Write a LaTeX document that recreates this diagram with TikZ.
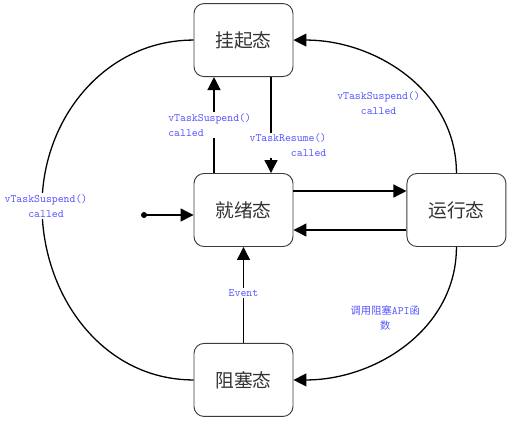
\documentclass[tikz,border=0pt]{standalone}
\usepackage{fontspec}
\newfontfamily\cjk{Noto Sans CJK SC}
\usepackage{tikz}
\tikzset{>=latex}
\usetikzlibrary{positioning, arrows.meta, calc}
\definecolor{lblblue}{RGB}{85,85,255}
\definecolor{boxgray}{RGB}{60,60,60}

\begin{document}
\begin{tikzpicture}[
    state/.style={draw=boxgray, line width=0.8pt, rounded corners=0.3cm, fill=white, minimum width=2.97cm, minimum height=2.19cm, font=\cjk\fontsize{16}{16}\selectfont, text=black!80},
    lbl/.style={text=lblblue, font=\ttfamily\fontsize{9.6}{12.8}\selectfont, fill=white, inner sep=1pt},
    tr/.style={line width=1.1pt, -{Triangle[length=3.9mm,width=3.9mm]}},
    ]
    \useasboundingbox (0,0) rectangle (15.36,-12.63);

    \node[state] (ready) at (7.305,-6.3) {就绪态};
    \node[state, above=2.88cm of ready] (suspended) {挂起态};
    \node[state, right=3.39cm of ready] (running) {运行态};
    \node[state, below=2.88cm of ready] (blocked) {阻塞态};

    \coordinate (init) at (4.32,-6.45);
    \coordinate (leftmid) at (1.26,-6.18);

    % start point
    \fill (init) circle (0.09);
    \draw[tr] (init) -- (init -| ready.west);

    % ready <-> suspended
    \draw[tr] ([xshift=-0.885cm]ready.north) -- ([xshift=-0.885cm]suspended.south)
        node[lbl, midway, xshift=-0.13cm, align=left] {vTaskSuspend()\\called};
    \draw[tr] ([xshift=0.825cm]suspended.south) -- ([xshift=0.825cm]ready.north)
        node[lbl, pos=0.71, xshift=0.51cm, align=right] {vTaskResume()\\called};

    % ready <-> running
    \draw[tr] ([yshift=0.57cm]ready.east) -- ([yshift=0.57cm]running.west);
    \draw[tr] ([yshift=-0.6cm]running.west) -- ([yshift=-0.6cm]ready.east);

    % blocked -> ready
    \draw[tr] (blocked) -- (ready)
        node[lbl, pos=0.52] {Event};

    % running -> suspended, running -> blocked
    \draw[tr] (running.north) to[out=90,in=0]
        node[lbl, pos=0.3, left=0.45cm, yshift=0.15cm, align=center] {vTaskSuspend()\\called} (suspended.east);
    \draw[tr] (running.south) to[out=-90,in=0]
        node[lbl, pos=0.3, left=0.45cm, yshift=-0.18cm, align=center] {{\cjk\fontsize{8.8}{12.8}\selectfont 调用阻塞}API{\cjk\fontsize{8.8}{12.8}\selectfont 函}\\{\cjk\fontsize{8.8}{12.8}\selectfont 数}} (blocked.east);

    % blocked -- suspended
    \draw[line width=1.1pt] (suspended.west) to[out=180,in=90] (leftmid) to[out=-90,in=180] (blocked.west);
    \node[lbl, align=center, xshift=0.12cm] (lblleft) at (leftmid) {vTaskSuspend()\\called};
\end{tikzpicture}
\end{document}
